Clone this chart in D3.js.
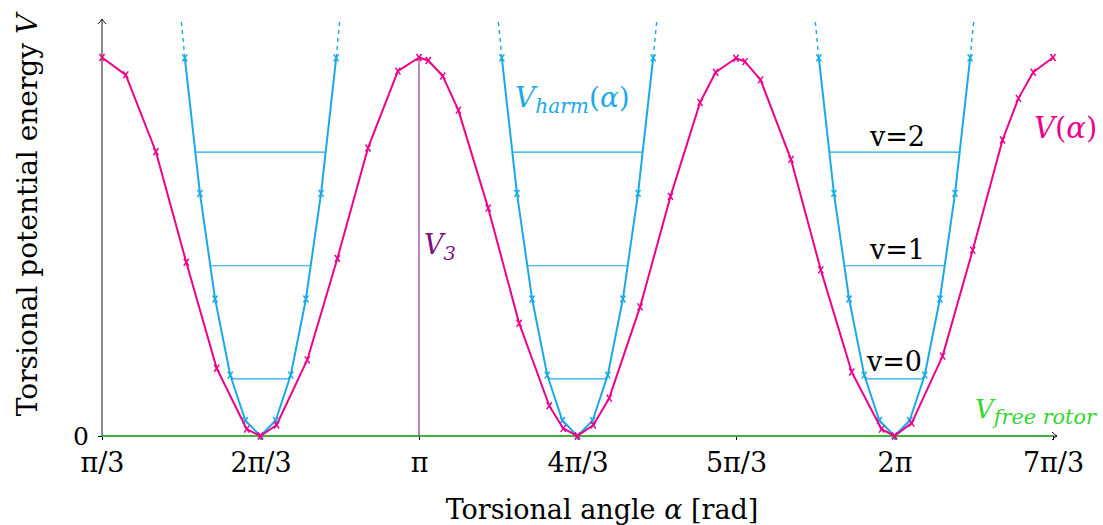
<!DOCTYPE html>
<html>
<head>
<meta charset="utf-8">
<script src="https://cdn.jsdelivr.net/npm/d3@7"></script>
<style>
  body { margin: 0; background: #fff; }
</style>
</head>
<body>
<div id="chart"></div>
<script>
// torsion angle (degrees) and potential V(alpha) as fraction of V3
var alphaDeg = [60, 69, 80.4, 91.9, 103.4, 114.8, 120, 126.1, 137.7, 149.1, 160.7, 172,
  180, 183.5, 189, 194.9, 206.2, 217.9, 229.3, 234.6, 240, 246, 252, 263.7, 275.2,
  286.4, 292.3, 300, 303.4, 309.3, 320.8, 332.1, 343.8, 355.1, 360, 366.5, 378.2,
  389.6, 400.9, 406.9, 412.5, 420];
var potential = [1.0, 0.954, 0.751, 0.459, 0.179, 0.018, 0, 0.029, 0.201, 0.469, 0.761, 0.964,
  1.0, 0.992, 0.951, 0.861, 0.602, 0.298, 0.080, 0.020, 0, 0.029, 0.100, 0.341, 0.633,
  0.881, 0.961, 0.998, 0.989, 0.941, 0.731, 0.439, 0.169, 0.018, 0, 0.034, 0.211,
  0.491, 0.782, 0.892, 0.961, 1.0];

// harmonic approximation around each minimum
var wellCenters = [120, 240, 360];
var harmOffsets = [-28.65, -22.92, -17.19, -11.46, -5.73, 0, 5.73, 11.46, 17.19, 22.92, 28.65];
var harmValues = [0.999, 0.641, 0.362, 0.161, 0.041, 0, 0.041, 0.161, 0.362, 0.641, 0.999];
var harmTopOffset = 30.0;
var harmTopValue = 1.097;

// vibrational levels
var levelNames = ["v=0", "v=1", "v=2"];
var levelValues = [0.151, 0.450, 0.750];
var levelHalfWidths = [10.9, 18.9, 24.6];

var tickAngles = [60, 120, 180, 240, 300, 360, 420];
var tickLabels = ["π/3", "2π/3", "π", "4π/3", "5π/3", "2π", "7π/3"];

var W = 1103, H = 525;
var pink = "#ec008c", cyan = "#1aa9e6", green = "#3cb43c", violet = "#7f0f7f";
var serif = "'DejaVu Serif', 'Liberation Serif', serif";

var svg = d3.select("#chart").append("svg")
  .attr("width", W).attr("height", H)
  .style("font-family", serif);

var x = d3.scaleLinear().domain([60, 420]).range([102, 1053]);
var y = d3.scaleLinear().domain([0, 1]).range([436, 57.5]);

var defs = svg.append("defs");
defs.append("marker")
  .attr("id", "arr").attr("viewBox", "-6 -5 8 10")
  .attr("refX", 0).attr("refY", 0)
  .attr("markerWidth", 8).attr("markerHeight", 10)
  .attr("markerUnits", "userSpaceOnUse")
  .attr("orient", "auto")
  .append("path")
    .attr("d", "M-5,-4 Q-2,-1 0,0 Q-2,1 -5,4")
    .attr("fill", "none").attr("stroke", "#000").attr("stroke-width", 0.9);

// x axis
var xAxis = svg.append("g")
  .attr("transform", "translate(0,436)")
  .call(d3.axisBottom(x).tickValues(tickAngles)
    .tickFormat(function(d, i) { return tickLabels[i]; })
    .tickSize(4).tickPadding(13));
xAxis.attr("font-family", null);
xAxis.select(".domain").remove();
xAxis.selectAll("text").attr("font-size", 27).attr("fill", "#000")
  .style("font-family", serif);
xAxis.selectAll("line").attr("stroke", "#000");

svg.append("line")
  .attr("x1", x(60)).attr("x2", 1057).attr("y1", 436).attr("y2", 436)
  .attr("stroke", "#000").attr("stroke-width", 0.9)
  .attr("marker-end", "url(#arr)");

// y axis
var yAxis = svg.append("g")
  .attr("transform", "translate(" + x(60) + ",0)")
  .call(d3.axisLeft(y).tickValues([0]).tickFormat(function() { return "0"; })
    .tickSize(4).tickPadding(9));
yAxis.attr("font-family", null);
yAxis.select(".domain").remove();
yAxis.selectAll("text").attr("font-size", 25).attr("fill", "#000")
  .style("font-family", serif);

svg.append("line")
  .attr("x1", x(60)).attr("x2", x(60)).attr("y1", 436).attr("y2", 19)
  .attr("stroke", "#000").attr("stroke-width", 0.9)
  .attr("marker-end", "url(#arr)");

// free rotor line
svg.append("line")
  .attr("x1", x(60)).attr("x2", 1051).attr("y1", y(0)).attr("y2", y(0))
  .attr("stroke", green).attr("stroke-width", 2.2);

// V3 barrier line
svg.append("line")
  .attr("x1", x(180)).attr("x2", x(180)).attr("y1", y(0)).attr("y2", y(1))
  .attr("stroke", violet).attr("stroke-width", 1);

var cross = "M-2.5,-3.5L2.5,3.5M2.5,-3.5L-2.5,3.5";

// harmonic wells
var line = d3.line().x(function(d) { return x(d[0]); }).y(function(d) { return y(d[1]); });

wellCenters.forEach(function(c) {
  var pts = harmOffsets.map(function(o, i) { return [c + o, harmValues[i]]; });

  // levels
  levelValues.forEach(function(v, i) {
    svg.append("line")
      .attr("x1", x(c - levelHalfWidths[i])).attr("x2", x(c + levelHalfWidths[i]))
      .attr("y1", y(v)).attr("y2", y(v))
      .attr("stroke", cyan).attr("stroke-width", 1.1);
  });

  svg.append("path").datum(pts)
    .attr("fill", "none").attr("stroke", cyan).attr("stroke-width", 2)
    .attr("d", line);

  [-1, 1].forEach(function(s) {
    var end = pts[s < 0 ? 0 : pts.length - 1];
    svg.append("path").datum([end, [c + s * harmTopOffset, harmTopValue]])
      .attr("fill", "none").attr("stroke", cyan).attr("stroke-width", 1.4)
      .attr("stroke-dasharray", "4,4")
      .attr("d", line);
  });

  svg.selectAll(null).data(pts).enter().append("path")
    .attr("transform", function(d) { return "translate(" + x(d[0]) + "," + y(d[1]) + ")"; })
    .attr("d", cross).attr("stroke", cyan).attr("stroke-width", 1.5).attr("fill", "none");
});

// V(alpha)
var vpts = alphaDeg.map(function(a, i) { return [a, potential[i]]; });
svg.append("path").datum(vpts)
  .attr("fill", "none").attr("stroke", pink).attr("stroke-width", 2)
  .attr("stroke-linejoin", "round")
  .attr("d", line);
svg.selectAll(null).data(vpts).enter().append("path")
  .attr("transform", function(d) { return "translate(" + x(d[0]) + "," + y(d[1]) + ")"; })
  .attr("d", cross).attr("stroke", pink).attr("stroke-width", 1.5).attr("fill", "none");

// level labels
var levelLabelY = [371, 259, 146];
levelNames.forEach(function(n, i) {
  svg.append("text")
    .attr("x", x(360) + (i === 0 ? 0 : 3)).attr("y", levelLabelY[i])
    .attr("text-anchor", "middle").attr("font-size", 27).attr("fill", "#000")
    .text(n);
});

// annotations
function mathLabel(xp, yp, main, sub, rest, color, size, subScale) {
  var t = svg.append("text").attr("x", xp).attr("y", yp)
    .attr("font-size", size).attr("fill", color);
  t.append("tspan").attr("font-style", "italic").text(main);
  if (sub) {
    t.append("tspan").attr("font-style", "italic").attr("font-size", size * (subScale || 0.72))
      .attr("dy", size * 0.22).text(sub);
  }
  if (rest) {
    t.append("tspan").attr("dy", sub ? -size * 0.22 : 0).text(rest);
  }
  return t;
}

var th = mathLabel(515, 107, "V", "harm", "(", cyan, 28);
th.append("tspan").attr("font-style", "italic").text("α");
th.append("tspan").text(")");

var tv = mathLabel(1034, 138, "V", null, "(", pink, 29);
tv.append("tspan").attr("font-style", "italic").text("α");
tv.append("tspan").text(")");

mathLabel(424, 254, "V", "3", null, violet, 27);
mathLabel(975, 418, "V", "free rotor", null, "#33d633", 26, 0.8);

// axis titles
var xt = svg.append("text").attr("x", 602).attr("y", 519)
  .attr("text-anchor", "middle").attr("font-size", 27).attr("fill", "#000");
xt.append("tspan").text("Torsional angle ");
xt.append("tspan").attr("font-style", "italic").text("α");
xt.append("tspan").text(" [rad]");

var yt = svg.append("text")
  .attr("transform", "translate(37,215) rotate(-90)")
  .attr("text-anchor", "middle").attr("font-size", 28).attr("fill", "#000");
yt.append("tspan").text("Torsional potential energy ");
yt.append("tspan").attr("font-style", "italic").text("V");
</script>
</body>
</html>
